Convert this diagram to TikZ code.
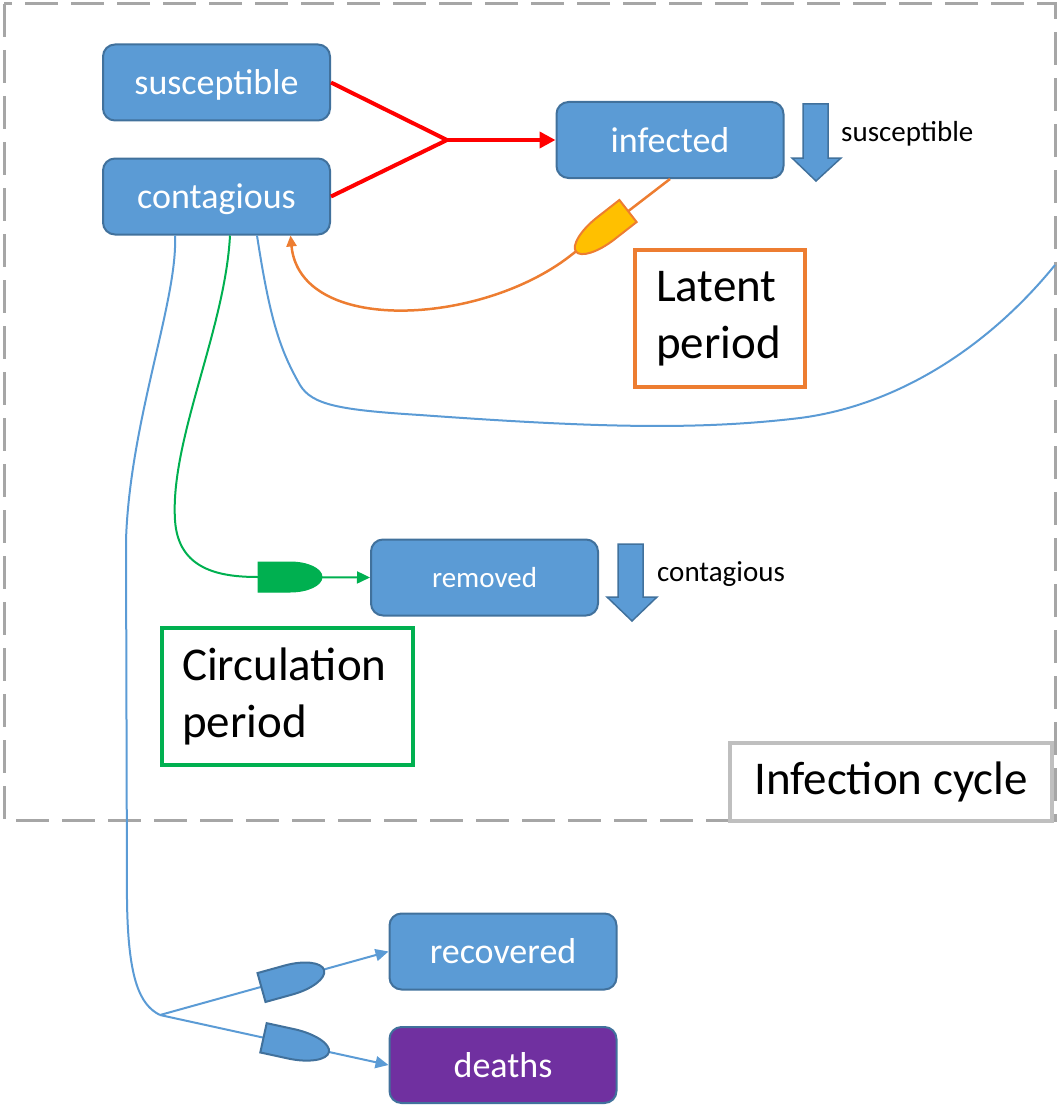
\documentclass[tikz,border=0pt]{standalone}
\usepackage{fontspec}
\setmainfont{Carlito}
\usetikzlibrary{arrows.meta,calc}
\definecolor{bblue}{HTML}{5B9BD5}
\definecolor{bstroke}{HTML}{41719C}
\definecolor{dpurple}{HTML}{7030A0}
\definecolor{orng}{HTML}{ED7D31}
\definecolor{yell}{HTML}{FFC000}
\definecolor{grn}{HTML}{00B050}
\definecolor{dashgray}{HTML}{A6A6A6}
\definecolor{lgray}{HTML}{BFBFBF}
\newcommand\drawgate[6]{%
  \begin{scope}[shift={(#1)},rotate=#2]
    \filldraw[#6] (0,-#5) -- (0,#5) -- (#3,#5) arc[start angle=90,end angle=-90,x radius=#4,y radius=#5] -- cycle;
  \end{scope}}
\begin{document}
\begin{tikzpicture}[x=1pt,y=-1pt,
  box/.style={draw=bstroke, fill=bblue, line width=2pt, rounded corners=12pt, text=white,
    inner sep=0pt, minimum width=227pt, minimum height=76pt, font=\fontsize{36}{40}\selectfont,
    text height=28pt, text depth=4pt},
  bigbox/.style={fill=white, line width=4.5pt, inner sep=0pt, align=left,
    minimum height=137pt, font=\fontsize{47}{57}\selectfont},
  small/.style={anchor=west, inner sep=0pt, font=\fontsize{29}{32}\selectfont},
  blockarrow/.style={fill=bblue, draw=bstroke, line width=1.5pt},
  bline/.style={draw=bblue, line width=2pt},
]
\useasboundingbox (0,0) rectangle (1058,1105);

% dashed infection cycle border
\draw[dashgray, line width=3pt, dash pattern=on 33pt off 13pt] (4,4) rectangle (1055,820);

% boxes
\node[box] (susc) at (216.5,82.5) {susceptible};
\node[box] (cont) at (216.5,196.5) {contagious};
\node[box] (inf) at (670,140) {infected};
\node[box, font=\fontsize{29}{32}\selectfont, text height=22pt, text depth=3pt] (rem) at (484.5,577.5) {removed};
\node[box] (rec) at (503,951.5) {recovered};
\node[box, fill=dpurple] (dea) at (503,1065) {deaths};

% coordinates
\coordinate (redj) at (447,140);
\coordinate (bluej) at (160,1015);
\coordinate (bluefree) at (1055,265);

% red connectors
\draw[red, line width=4pt, line join=miter] (susc.east) -- (redj) -- (cont.east);
\draw[red, line width=4pt, -{Triangle[length=16pt,width=16pt]}] (redj) -- (inf.west);

% orange latent connector
\draw[orng, line width=2.5pt, -{Triangle[length=11pt,width=10pt]}]
  (inf.south) -- (570,256) .. controls (480,326) and (300,335) .. ([xshift=74pt]cont.south);
\drawgate{628,211}{218}{28}{38}{14}{fill=yell, draw=orng, line width=2pt}

% blue loop back to right edge
\draw[bline] ([xshift=40.5pt]cont.south) .. controls (270,320) and (280,350) .. (300,385)
  .. controls (312,405) and (340,410) .. (420,415)
  .. controls (600,428) and (700,430) .. (800,418)
  .. controls (900,405) and (990,345) .. (bluefree);

% green circulation connector
\draw[grn, line width=2pt, -{Triangle[length=13pt,width=12pt]}]
  ([xshift=13.5pt]cont.south) .. controls (225,330) and (170,440) .. (175,520)
  .. controls (178,570) and (220,577) .. (258,577) -- (rem.west);
\drawgate{258,577}{0}{32}{32}{15}{fill=grn, draw=grn, line width=1pt}

% blue to outcome
\draw[bline] ([xshift=-41.5pt]cont.south) .. controls (178,300) and (130,420) .. (126,540)
  -- (127,900) .. controls (128,980) and (140,1005) .. (bluej);
\draw[bline, -{Triangle[length=13pt,width=12pt]}] (bluej) -- (rec.west);
\draw[bline, -{Triangle[length=13pt,width=12pt]}] (bluej) -- (dea.west);
\drawgate{261.5,987.5}{15.5}{28}{37}{15}{fill=bblue, draw=bstroke, line width=2pt}
\drawgate{263.5,1037.8}{-12.3}{28}{39}{15}{fill=bblue, draw=bstroke, line width=2pt}

% block arrows
\filldraw[blockarrow] (803,104) -- (828,104) -- (828,158) -- (841,158) -- (816,181) -- (792,158) -- (803,158) -- cycle;
\filldraw[blockarrow] (618,544) -- (643,544) -- (643,597) -- (657,597) -- (632,621) -- (607,597) -- (618,597) -- cycle;
\node[small] (lsusc) at (841,134) {susceptible};
\node[small] (lcont) at (657,574) {contagious};

% period boxes
\node[bigbox, draw=orng, minimum width=170pt, text width=128pt] (latent) at (720,318.5) {Latent\\period};
\node[bigbox, draw=grn, minimum width=251pt, text width=211pt] (circ) at (287.5,696.5) {Circulation\\period};
\node[bigbox, draw=lgray, minimum width=322pt, minimum height=78pt, align=center] (cycle) at (891,782) {Infection cycle};
\end{tikzpicture}
\end{document}
